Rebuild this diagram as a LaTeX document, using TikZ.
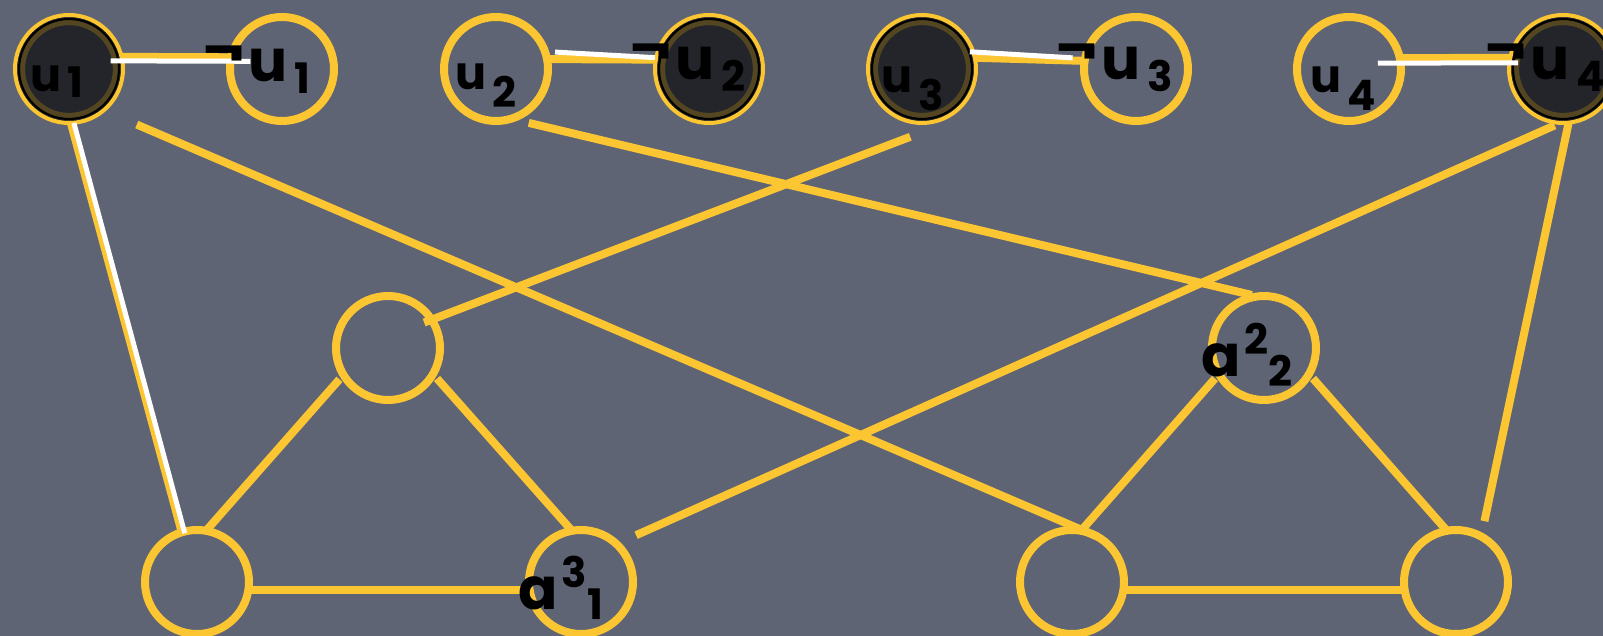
\documentclass[tikz,border=0pt]{standalone}
\usepackage{fontspec}
\setmainfont{Poppins}
\definecolor{slate}{RGB}{94,100,116}
\definecolor{gold}{RGB}{252,197,50}
\definecolor{coal}{RGB}{35,37,43}
\definecolor{rim}{RGB}{84,70,32}
\newcommand{\ufont}{\fontsize{23}{23}\selectfont}
\newcommand{\nfont}{\fontsize{29}{29}\selectfont}
\newcommand{\dfont}{\fontsize{21}{21}\selectfont}
\newcommand{\posl}[2][9pt]{{\ufont u}\hspace{3pt}\raisebox{-#1}{\dfont #2}}
\newcommand{\negl}[1]{\raisebox{5pt}{\nfont ¬}\hspace{2pt}{\nfont u}\hspace{3pt}\raisebox{-6pt}{\dfont #1}}
\newcommand{\avar}[2]{{\nfont a}\hspace{2pt}\raisebox{11pt}{\dfont #1}\raisebox{-5pt}{\dfont #2}}

\begin{document}
\begin{tikzpicture}[x=0.5pt, y=-0.5pt, font=\bfseries,
    var/.style={circle, draw=gold, line width=4pt, minimum size=52pt, inner sep=0pt, outer sep=0pt},
    lit/.style={var, fill=coal, line width=2pt, minimum size=54pt,
      path picture={\draw[rim, line width=2.5pt] (path picture bounding box.center) circle (23.2pt);
                    \draw[black, line width=1pt] (path picture bounding box.center) circle (25pt);}},
    wire/.style={gold, line width=4pt},
    hl/.style={white, line width=2.5pt},
    lbl/.style={inner sep=0pt, anchor=base west, text=black}]
  \fill[slate] (0,0) rectangle (1603,636);
  \useasboundingbox (0,0) rectangle (1603,636);
  % literals
  \node[lit] (u1) at (69,69) {};
  \node[var] (nu1) at (282,69) {};
  \node[var] (u2) at (496,69) {};
  \node[lit] (nu2) at (709,69) {};
  \node[lit] (u3) at (922,69) {};
  \node[var] (nu3) at (1136,69) {};
  \node[var] (u4) at (1349,69) {};
  \node[lit] (nu4) at (1563,69) {};
  % clause triangles
  \node[var] (m1) at (388,348) {};
  \node[var] (a22) at (1264,348) {};
  \node[var] (b1) at (197,582) {};
  \node[var] (a31) at (581,582) {};
  \node[var] (b3) at (1072,582) {};
  \node[var] (b4) at (1456,582) {};

  \draw[wire] (u1.13) -- (nu1.167);
  \draw[wire] (u2.11) -- (nu2.170);
  \draw[wire] (u3.12) -- (nu3.171);
  \draw[wire] (u4.12) -- (nu4.168);
  \draw[wire] (u1.-88) -- (b1.107);
  \draw[wire, shorten <=18pt] (u1.-50) -- (b3.61);
  \draw[wire, shorten <=9pt, shorten >=3pt] (u2.-73) -- (a22.97);
  \draw[wire, shorten >=-4pt] ([shift={(-7,14)}]u3.-95) -- (m1.33);
  \draw[wire, shorten <=3pt, shorten >=10.75pt] (nu4.-93) -- (a31.47);
  \draw[wire, shorten >=7.85pt] (nu4.-84) -- (b4.61);
  \draw[wire, shorten <=3pt] (m1.211) -- (b1.80);
  \draw[wire, shorten <=3pt] (m1.-30) -- (a31.100);
  \draw[wire, shorten <=3pt] (a22.210) -- (b3.80);
  \draw[wire, shorten <=3pt] (a22.-30) -- (b4.100);
  \draw[wire] (b1.-9) -- (a31.189);
  \draw[wire] (b3.-9) -- (b4.189);
  % chosen edges
  \draw[hl] ([shift={(-11,4)}]u1.13) -- ([shift={(19,4)}]nu1.167);
  \draw[hl] ([shift={(8,-7)}]u2.11) -- ([shift={(-1,-2)}]nu2.170);
  \draw[hl] ([shift={(-5,-6)}]u3.12) -- ([shift={(-12,-3)}]nu3.171);
  \draw[hl] ([shift={(-22,5)}]u4.12) -- ([shift={(8,5)}]nu4.168);
  \draw[hl] ([shift={(3,0)}]u1.-88) -- ([shift={(3,1)}]b1.107);

  \node[lbl] (tu1) at (30,92) {\posl[3pt]{1}};
  \node[lbl] (tnu1) at (203,82) {\negl{1}};
  \node[lbl] (tu2) at (455,90) {\posl{2}};
  \node[lbl] (tnu2) at (630,80) {\negl{2}};
  \node[lbl] (tu3) at (881,93) {\posl{3}};
  \node[lbl] (tnu3) at (1056,80) {\negl{3}};
  \node[lbl] (tu4) at (1310,93) {\posl{4}};
  \node[lbl] (tnu4) at (1485,80) {\negl{4}};
  \node[lbl] (ta31) at (518,610) {\avar{3}{1}};
  \node[lbl] (ta22) at (1201,377) {\avar{2}{2}};
\end{tikzpicture}
\end{document}
